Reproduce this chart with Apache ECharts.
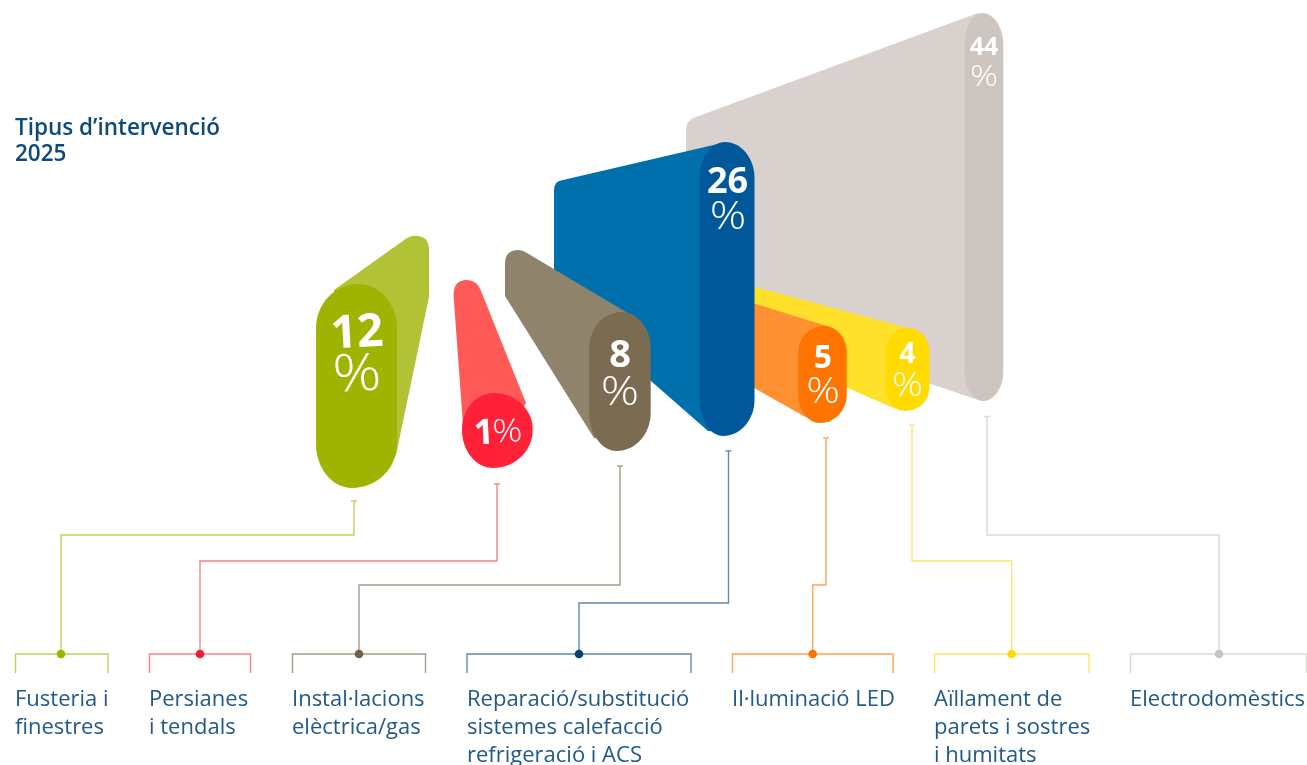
<!DOCTYPE html>
<html><head><meta charset="utf-8">
<style>html,body{margin:0;padding:0;background:#fff}#c{width:1307px;height:765px}</style>
<script src="https://cdn.jsdelivr.net/npm/echarts@6/dist/echarts.min.js"></script>
</head><body><div id="c"></div>
<script>
// ---- data ----
const chartTitle = "Tipus d\u2019intervenci\u00f3\n2025";
const categories = ["Fusteria i\nfinestres","Persianes\ni tendals","Instal\u00b7lacions\nel\u00e8ctrica/gas","Reparaci\u00f3/substituci\u00f3\nsistemes calefacci\u00f3\nrefrigeraci\u00f3 i ACS","Il\u00b7luminaci\u00f3 LED","A\u00efllament de\nparets i sostres\ni humitats","Electrodom\u00e8stics"];
const values = [12,1,8,26,5,4,44];

// ---- styles ----
const sideColors  = ["#b1c236","#ff5a58","#90836c","#0070ad","#ff9133","#ffe12c","#d8d1ce"];
const frontColors = ["#9fb400","#ff2138","#7a6b51","#00579a","#ff7300","#ffdb00","#cdc5c0"];
const lineColors  = ["#c2cf5e","#f9808c","#a59c8a","#5f8bae","#ffa355","#ffe36b","#dcd8d4"];
const dotColors   = ["#9fb400","#e81f35","#6f6249","#0a3f6e","#ff7300","#ffd900","#c9c3bd"];
const stacking    = [5,6,7,4,3,2,1];
const textColor = "#21598a", titleColor = "#0d4a7c";
const SANS = "Open Sans";

// ---- pictogram layout (page pixels on the hidden axes) ----
// front: left, right, top, bottom, top radius, bottom radius, top peak x, bottom peak x
const fronts = [
 [316,397,284,488,44,44,358,352],
 [462,532.7,393,468,36,38,494,493],
 [589.3,650.7,312,451,36,38,621.7,616.7],
 [699.7,754.5,142,436,36,36,725,723],
 [798.3,846.7,326,423,26,28,824,820],
 [885.7,929.5,328,411,24,24,908,905.7],
 [964.5,1003.3,13,401,32,30,982,983]
];
// side silhouette: path commands, in page pixels
const sides = [
 [["M",334,290],["L",407,238],["Q",411,235.7,415,235.7],["Q",429,235.7,429,250],["L",429,297],["L",396,455],["L",350,455],["Z"]],
 [["M",463,425],["L",453.5,295],["Q",453.5,280,467,280],["Q",477,280,481,291],["L",526,403],["L",500,450],["Z"]],
 [["M",505,296],["L",505,264],["Q",505,250,518,250],["Q",523,250,527,253],["L",636,318],["L",620,440],["L",594,438],["Z"]],
 [["M",554,296],["L",554,190],["Q",554,181,563,180],["L",722,143],["L",724,432],["L",708,431],["Z"]],
 [["M",740,299],["L",830,327],["L",830,422],["L",805,416.7],["L",740,380],["Z"]],
 [["M",740,283],["L",908,328],["L",900,410],["L",893,408],["L",740,340],["Z"]],
 [["M",686,300],["L",686,130],["Q",686,120,696,117],["L",978,13],["L",984,401],["L",972,398],["Z"]]
];
// connector: x at shape, y start, elbow y, x at bracket, bracket left, bracket right
const connectors = [
 [354,501,535,61,15.5,108],
 [497,484,561,200,149.5,250.5],
 [620,466,585,359,292.5,425.5],
 [728.5,451,603,579,467,691],
 [826,438,585,812.7,732.5,893],
 [912,425,561,1011.7,934.7,1089],
 [987,416.5,535,1219,1130.5,1306.5]
];
const bracketY = 654, legY = 673, labelX = [15,149,292,467,732,934,1130], labelY = 686, lineH = 28;
// number: x, y, size; percent: x, y, size; rotation (deg)
const labels = [
 [357,334,46, 357,376,52, 3],
 [484,434,35, 507.5,432.5,32, 3],
 [620,356,38, 620,393,41, 0],
 [727.5,183,36, 728,218,39, 0],
 [823,359,32, 823,392.5,36, 0],
 [907.5,355,28, 907.5,386.5,33, 0],
 [984,48,25, 984,77,30, 0]
];
const percentStretch = 1.16;

const chart = echarts.init(document.getElementById('c'), null, {renderer:'canvas'});

function renderItem(params, api){
  const i = api.value(0), v = api.value(1);
  const P = (x,y)=>api.coord([x,y]);
  const z = stacking[i]*10;
  const pt = (x,y)=>P(x,y).map(n=>n.toFixed(2)).join(' ');
  const side = sides[i].map(c=>{
    if(c[0]==='Z') return 'Z';
    if(c[0]==='Q') return 'Q'+pt(c[1],c[2])+' '+pt(c[3],c[4]);
    return c[0]+pt(c[1],c[2]);
  }).join(' ');
  const [l,r,t,b,rt,rb,pt1,pb] = fronts[i];
  const k=0.55, q=0.45;
  const front = 'M'+pt(l,t+rt)+
    ' C'+pt(l,t+rt*q)+' '+pt(pt1-(pt1-l)*k,t)+' '+pt(pt1,t)+
    ' C'+pt(pt1+(r-pt1)*k,t)+' '+pt(r,t+rt*q)+' '+pt(r,t+rt)+
    ' L'+pt(r,b-rb)+
    ' C'+pt(r,b-rb*q)+' '+pt(pb+(r-pb)*k,b)+' '+pt(pb,b)+
    ' C'+pt(pb-(pb-l)*k,b)+' '+pt(l,b-rb*q)+' '+pt(l,b-rb)+' Z';
  const [cx,cy,elbow,bx,bl,br] = connectors[i];
  const ln = pts=>({type:'polyline',silent:true,shape:{points:pts.map(p=>P(p[0],p[1]))},
    style:{stroke:lineColors[i],lineWidth:1.4,fill:null},z2:1});
  const [nx,ny,ns,px,py,ps,rot] = labels[i];
  const nPos = P(nx,ny), pPos = P(px,py), lPos = P(labelX[i],labelY);
  const rad = rot*Math.PI/180;
  const dot = P(bx,bracketY);
  return {type:'group',children:[
    {type:'path',shape:{pathData:side},style:{fill:sideColors[i]},z2:z},
    {type:'path',shape:{pathData:front},style:{fill:frontColors[i]},z2:z+1},
    {type:'text',x:nPos[0],y:nPos[1],rotation:rad,z2:z+2,style:{text:String(v),fill:'#fff',fontFamily:SANS,fontWeight:700,fontSize:ns,align:'center',verticalAlign:'middle'}},
    {type:'text',x:pPos[0],y:pPos[1],rotation:rad,scaleX:percentStretch,z2:z+2,style:{text:'%',fill:'#fff',fontFamily:SANS,fontWeight:300,fontSize:ps,align:'center',verticalAlign:'middle'}},
    ln([[cx,cy],[cx,elbow],[bx,elbow],[bx,bracketY]]),
    ln([[cx-3,cy],[cx+3,cy]]),
    ln([[bl,legY],[bl,bracketY],[br,bracketY],[br,legY]]),
    {type:'circle',shape:{cx:dot[0],cy:dot[1],r:4.3},style:{fill:dotColors[i]},z2:2},
    {type:'text',x:lPos[0],y:lPos[1],z2:2,style:{text:categories[i],fill:textColor,fontFamily:SANS,fontWeight:400,fontSize:22,lineHeight:lineH,align:'left',verticalAlign:'top'}}
  ]};
}

chart.setOption({
  animation:false,
  backgroundColor:'#fff',
  title:{text:chartTitle,left:15,top:116,padding:0,textStyle:{color:titleColor,fontFamily:SANS,fontWeight:600,fontSize:22.5,lineHeight:26}},
  grid:{left:0,right:0,top:0,bottom:0},
  xAxis:{type:'value',min:0,max:1307,show:false},
  yAxis:{type:'value',min:0,max:765,inverse:true,show:false},
  series:[{type:'custom',clip:false,silent:true,coordinateSystem:'cartesian2d',
    encode:{x:0,y:1},renderItem,data:values.map((v,i)=>[i,v])}]
});
</script></body></html>
